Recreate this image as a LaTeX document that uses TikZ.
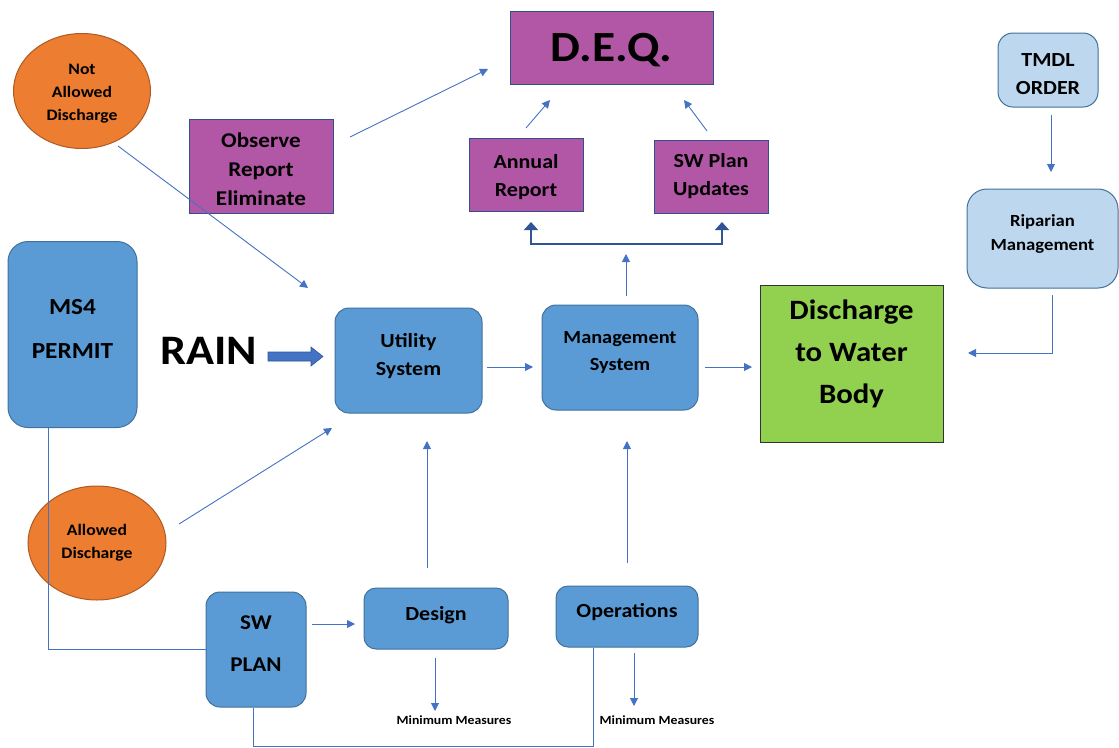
\documentclass[tikz,border=0pt]{standalone}
\usepackage{fontspec}
\setmainfont{Carlito}[FakeStretch=1.1]
\usepackage{tikz}
\usetikzlibrary{arrows.meta,shapes.geometric}

\definecolor{boxBlue}{HTML}{5B9BD5}
\definecolor{boxEdge}{HTML}{41719C}
\definecolor{paleBlue}{HTML}{BDD7EE}
\definecolor{deqPurple}{HTML}{B256A6}
\definecolor{purpleEdge}{HTML}{2F528F}
\definecolor{ovalOrange}{HTML}{ED7D31}
\definecolor{ovalEdge}{HTML}{AE5A21}
\definecolor{waterGreen}{HTML}{92D050}
\definecolor{lineBlue}{HTML}{4472C4}
\definecolor{darkBlue}{HTML}{2F5597}

\newcommand{\txt}[2]{\fontsize{#1}{#2}\selectfont\bfseries}
% struts that nudge a label up (depth) or down (height)
\newcommand{\dn}[1]{\rule[-#1]{0pt}{#1}}
\newcommand{\hi}[1]{\rule{0pt}{#1}}

\tikzset{
  box/.style={align=center, inner sep=0pt, line width=1pt},
  blueBox/.style={box, draw=boxEdge, fill=boxBlue, rounded corners=14pt},
  paleBox/.style={box, draw=boxEdge, fill=paleBlue, rounded corners=15pt},
  purpleBox/.style={box, draw=purpleEdge, fill=deqPurple},
  oval/.style={box, ellipse, draw=ovalEdge, fill=ovalOrange},
  arr/.style={draw=lineBlue, line width=0.9pt, -{Triangle[length=8pt,width=8pt]}},
  plain/.style={draw=lineBlue, line width=0.9pt}
}

\begin{document}
\begin{tikzpicture}[x=1pt, y=-1pt]
\useasboundingbox (0,0) rectangle (1119,747);

% nodes
\node[oval, minimum width=137pt, minimum height=115pt, font=\txt{16}{23}] (notAllowed) at (82,91) {\hi{16pt}Not\\Allowed\\Discharge};
\node[oval, minimum width=138pt, minimum height=114pt, font=\txt{16}{23}] (allowed) at (97,543) {Allowed\\Discharge};
\node[purpleBox, minimum width=144pt, minimum height=94pt, font=\txt{21}{29}] (observe) at (261,166) {\hi{22pt}Observe\\Report\\Eliminate};
\node[purpleBox, minimum width=203pt, minimum height=73pt, font=\txt{43}{50}] (deq) at (611.5,47.5) {\hi{34pt}D.E.Q.};
\node[purpleBox, minimum width=114pt, minimum height=73pt, font=\txt{20}{28}] (annual) at (526,174.5) {\hi{19pt}Annual\\Report};
\node[purpleBox, minimum width=114pt, minimum height=73pt, font=\txt{20}{28}] (swUpd) at (711,176.5) {SW Plan\\Updates};
\node[paleBox, minimum width=100pt, minimum height=74pt, font=\txt{20}{28}] (tmdl) at (1048,70) {\hi{21pt}TMDL\\ORDER};
\node[paleBox, minimum width=151pt, minimum height=99pt, font=\txt{17}{24}, rounded corners=20pt] (riparian) at (1042.5,238.5) {Riparian\\Management\dn{12pt}};
\node[box, draw=black!80, fill=waterGreen, minimum width=183pt, minimum height=157pt, font=\txt{28}{42}] (discharge) at (851.5,363.5) {Discharge\\to Water\\Body\dn{23pt}};
\node[blueBox, rounded corners=20pt, minimum width=129pt, minimum height=186pt, font=\txt{23}{44}] (ms4) at (72.5,334.5) {MS4\\PERMIT\dn{11pt}};
\node[font=\txt{42}{50}, inner sep=0pt] (rain) at (208.5,351) {RAIN};
\node[blueBox, minimum width=147pt, minimum height=105pt, font=\txt{20}{28}] (utility) at (408.5,360.5) {Utility\\System\dn{13pt}};
\node[blueBox, minimum width=156pt, minimum height=105pt, font=\txt{18.5}{27}] (mgmt) at (620,357.5) {Management\\System\dn{12.5pt}};
\node[blueBox, minimum width=100pt, minimum height=115pt, font=\txt{21}{42}] (swPlan) at (256,649.5) {SW\\PLAN\dn{11pt}};
\node[blueBox, rounded corners=12pt, minimum width=144pt, minimum height=61pt, font=\txt{20}{28}] (design) at (436,618.5) {Design\dn{11pt}};
\node[blueBox, rounded corners=12pt, minimum width=142pt, minimum height=61pt, font=\txt{20}{28}] (oper) at (627,616.5) {Operations\dn{13pt}};
\node[font=\txt{12.5}{14}, inner sep=0pt] (minDesign) at (454,720) {Minimum Measures};
\node[font=\txt{12.5}{14}, inner sep=0pt] (minOper) at (657,720) {Minimum Measures};

% free ends of the connectors
\coordinate (naFrom) at (118,146);  \coordinate (naTo) at (308,288);
\coordinate (alFrom) at (179,524);  \coordinate (alTo) at (332,428);
\coordinate (obFrom) at (350,137);  \coordinate (obTo) at (488,69);
\coordinate (arFrom) at (526,128);  \coordinate (arTo) at (550,100);
\coordinate (suFrom) at (707,131);  \coordinate (suTo) at (684,100);
\coordinate (tmFrom) at (1051,115); \coordinate (tmTo) at (1051,172);
\coordinate (rpFrom) at (1052,295); \coordinate (rpTo) at (968,353);
\coordinate (usFrom) at (487,367);  \coordinate (usTo) at (533,367);
\coordinate (msFrom) at (705,367);  \coordinate (msTo) at (752,367);
\coordinate (upFrom) at (626,296);  \coordinate (upTo) at (626,254);
\coordinate (brLeft) at (531,222);  \coordinate (brRight) at (722,222);
\coordinate (dsFrom) at (427,568);  \coordinate (dsTo) at (427,441);
\coordinate (opFrom) at (627,563);  \coordinate (opTo) at (627,441);
\coordinate (spFrom) at (312,624);  \coordinate (spTo) at (355,624);
\coordinate (dmFrom) at (435,658);  \coordinate (dmTo) at (435,711);
\coordinate (omFrom) at (634,653);  \coordinate (omTo) at (634,706);
\coordinate (rainTip) at (323,356.5);

% connectors
\draw[arr] (naFrom) -- (naTo);
\draw[arr] (alFrom) -- (alTo);
\draw[arr] (obFrom) -- (obTo);
\draw[arr] (arFrom) -- (arTo);
\draw[arr] (suFrom) -- (suTo);
\draw[arr] (tmFrom) -- (tmTo);
\draw[arr] (rpFrom) |- (rpTo);
\draw[arr] (usFrom) -- (usTo);
\draw[arr] (msFrom) -- (msTo);
\draw[arr] (upFrom) -- (upTo);
\draw[arr] (dsFrom) -- (dsTo);
\draw[arr] (opFrom) -- (opTo);
\draw[arr] (spFrom) -- (spTo);
\draw[arr] (dmFrom) -- (dmTo);
\draw[arr] (omFrom) -- (omTo);
\draw[darkBlue, line width=1.6pt, {Triangle[length=8pt,width=14pt]}-{Triangle[length=8pt,width=14pt]}]
	(brLeft) -- ++(0,22) -| (brRight);
\draw[plain] ([xshift=41pt]ms4.south west) |- (swPlan.west);
\draw[plain] ([xshift=-3pt]swPlan.south) -- ++(0,39) -| ([xshift=-34pt]oper.south);

% rain arrow
\draw[fill=lineBlue, draw=darkBlue, line width=0.6pt] (rainTip) -- ++(-12,-9.5) -- ++(0,5) -- ++(-43,0)
	-- ++(0,9) -- ++(43,0) -- ++(0,5) -- cycle;
\end{tikzpicture}
\end{document}
